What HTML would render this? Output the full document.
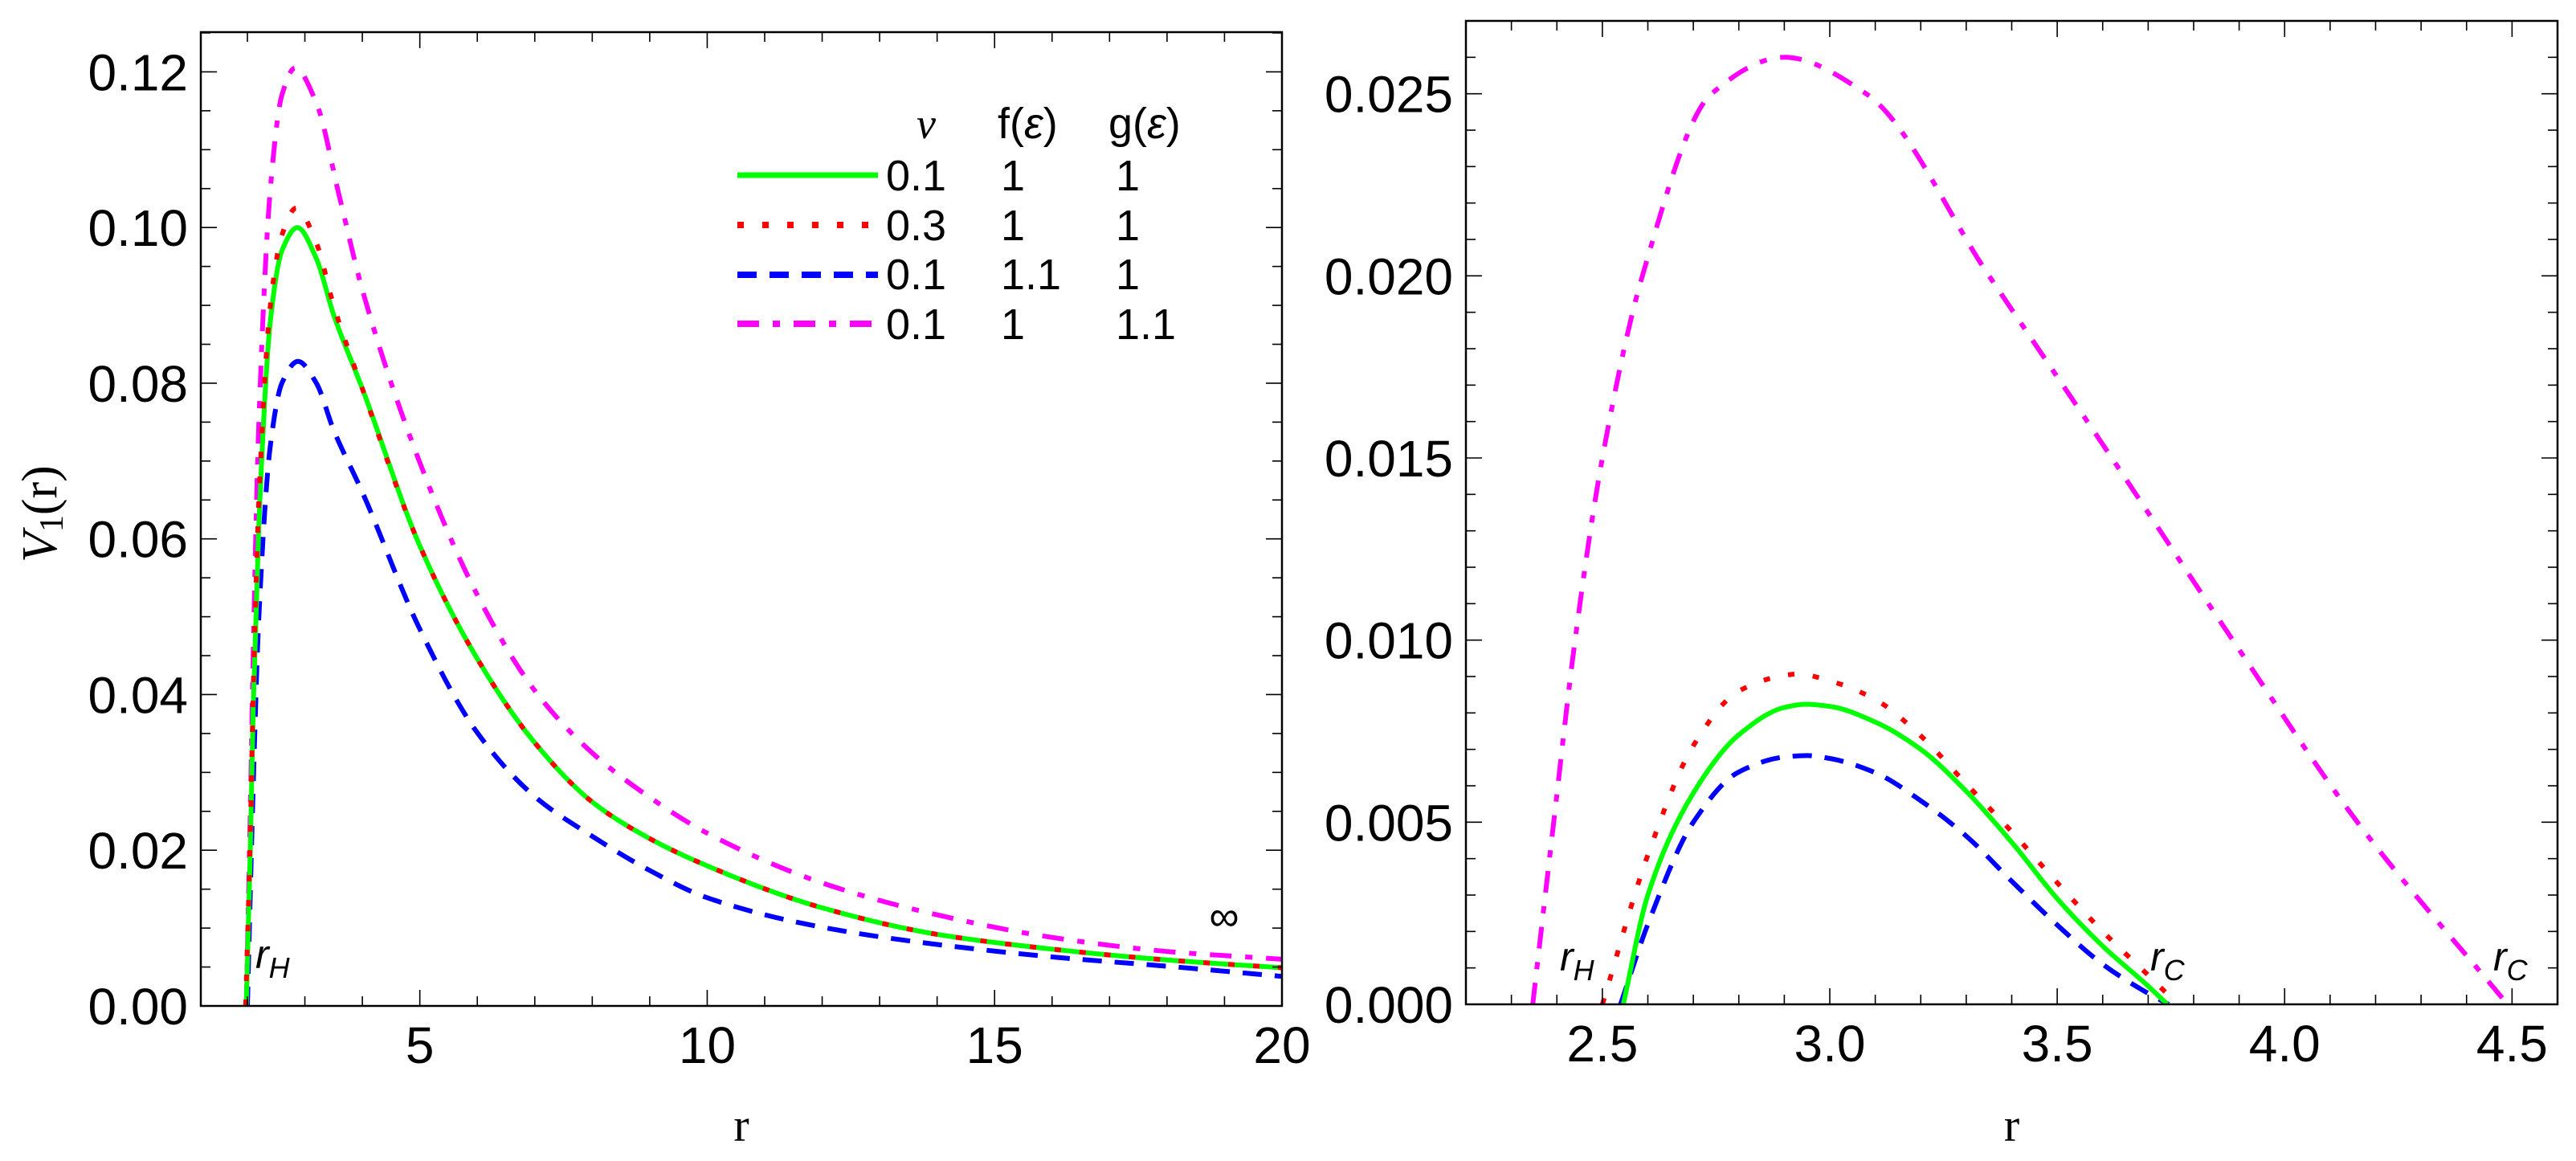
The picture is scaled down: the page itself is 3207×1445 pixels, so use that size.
<!DOCTYPE html>
<html><head><meta charset="utf-8"><style>
html,body{margin:0;padding:0;background:#fff;}
svg{display:block;}
</style></head><body>
<svg id="fig" width="3207" height="1445" viewBox="0 0 3207 1445" xmlns="http://www.w3.org/2000/svg" font-family="Liberation Sans, sans-serif">
<g id="left"></g>
<g id="right"></g>
</svg>
<script>
// ---------- data: left panel ----------
const leftGreenR = [1.98,2.05,2.1,2.2,2.4,2.6,2.87,3.2,3.5,4,5,6,7,8,9,10,12,14,16,18,20];
const leftGreenV = [0,0.02,0.038,0.062,0.088,0.097,0.100,0.096,0.0888,0.0793,0.0591,0.0446,0.0338,0.0262,0.0215,0.018,0.0126,0.0092,0.0073,0.0059,0.0049];
const leftRedR = [1.97,2.05,2.1,2.2,2.4,2.6,2.85,3.2,3.5,4,5,6,7,8,9,10,12,14,16,18,20];
const leftRedV = [0,0.022,0.04,0.065,0.09,0.099,0.1025,0.098,0.09,0.0793,0.0591,0.0446,0.0338,0.0262,0.0215,0.018,0.0126,0.0092,0.0073,0.0059,0.0049];
const leftBlueR = [2.0,2.1,2.2,2.4,2.6,2.88,3.2,3.5,4,5,6,7,8,9,10,12,14,16,18,20];
const leftBlueV = [0,0.028,0.05,0.072,0.08,0.0828,0.08,0.074,0.066,0.0484,0.0351,0.0269,0.0218,0.0174,0.0139,0.0101,0.0079,0.0063,0.0051,0.0038];
const leftMagR = [1.98,2.05,2.1,2.2,2.4,2.6,2.83,3.2,3.6,4,5,6,7,8,9,10,12,14,16,18,20];
const leftMagV = [0,0.025,0.045,0.075,0.105,0.117,0.1205,0.116,0.104,0.092,0.0698,0.0528,0.0405,0.0325,0.0268,0.0222,0.0158,0.0117,0.0088,0.007,0.006];
const leftXTicks = [5,10,15,20];
const leftYTicks = [0,0.02,0.04,0.06,0.08,0.10,0.12];
const leftYLabels = ["0.00","0.02","0.04","0.06","0.08","0.10","0.12"];
// ---------- data: right panel ----------
const rightGreenR = [2.546,2.6,2.7,2.8,2.9,2.946,3.0,3.1,3.2,3.3,3.4,3.5,3.6,3.7,3.742];
const rightGreenV = [0,0.0030,0.0058,0.0074,0.00815,0.00824,0.00818,0.00775,0.0070,0.00585,0.00445,0.0029,0.0016,0.0005,0];
const rightRedR = [2.5,2.6,2.7,2.8,2.9,2.93,3.0,3.1,3.2,3.3,3.4,3.5,3.6,3.7,3.765];
const rightRedV = [0,0.0041,0.0071,0.0086,0.00903,0.00907,0.00888,0.00837,0.00737,0.00605,0.00474,0.00334,0.002,0.0008,0];
const rightBlueR = [2.54,2.6,2.7,2.8,2.9,2.95,3.0,3.1,3.2,3.3,3.4,3.5,3.6,3.7,3.745];
const rightBlueV = [0,0.0022,0.0050,0.00638,0.00679,0.00683,0.00675,0.00636,0.00559,0.00462,0.00338,0.00218,0.0011,0.0003,0];
const rightMagR = [2.347,2.393,2.44,2.5,2.588,2.74,2.9,3.08,3.35,3.62,3.886,4.16,4.49];
const rightMagV = [0,0.005,0.010,0.015,0.020,0.025,0.026,0.025,0.020,0.015,0.010,0.005,0];
const rightXTicks = [2.5,3.0,3.5,4.0,4.5];
const rightXLabels = ["2.5","3.0","3.5","4.0","4.5"];
const rightYTicks = [0,0.005,0.010,0.015,0.020,0.025];
const rightYLabels = ["0.000","0.005","0.010","0.015","0.020","0.025"];

const NS="http://www.w3.org/2000/svg";
function mk(parent,tag,attrs){const e=document.createElementNS(NS,tag);for(const k in attrs)e.setAttribute(k,attrs[k]);parent.appendChild(e);return e;}
function lin(d0,d1,r0,r1){return v=>r0+(v-d0)*(r1-r0)/(d1-d0);}

// monotone cubic (Fritsch-Carlson) in screen coords
function smoothPath(xs,ys){
  const n=xs.length, d=[], m=[];
  for(let i=0;i<n-1;i++)d.push((ys[i+1]-ys[i])/(xs[i+1]-xs[i]));
  m[0]=d[0]; m[n-1]=d[n-2];
  for(let i=1;i<n-1;i++){
    if(d[i-1]*d[i]<=0)m[i]=0;
    else{const w1=2*(xs[i+1]-xs[i])+(xs[i]-xs[i-1]),w2=(xs[i+1]-xs[i])+2*(xs[i]-xs[i-1]);m[i]=(w1+w2)/(w1/d[i-1]+w2/d[i]);}
  }
  let p="M"+xs[0].toFixed(1)+","+ys[0].toFixed(1);
  for(let i=0;i<n-1;i++){
    const h=(xs[i+1]-xs[i])/3;
    p+=" C"+(xs[i]+h).toFixed(1)+","+(ys[i]+m[i]*h).toFixed(1)+" "+(xs[i+1]-h).toFixed(1)+","+(ys[i+1]-m[i+1]*h).toFixed(1)+" "+xs[i+1].toFixed(1)+","+ys[i+1].toFixed(1);
  }
  return p;
}
const styles={
  green:{stroke:"#00ff00",dash:null},
  red:{stroke:"#ff0000",dash:"8 23"},
  blue:{stroke:"#0000ff",dash:"24 16"},
  mag:{stroke:"#ff00ff",dash:"27 17 9 17"}
};

function panel(g,o){
  const sx=lin(o.xmin,o.xmax,o.L,o.R), sy=lin(0,o.ymax,o.B,o.T);
  const clipId=o.id+"-clip";
  const defs=mk(g,"defs",{});
  const cp=mk(defs,"clipPath",{id:clipId});
  mk(cp,"rect",{x:o.L,y:o.T,width:o.R-o.L,height:o.B-o.T});
  const cg=mk(g,"g",{"clip-path":"url(#"+clipId+")"});
  
  
  o.series.forEach(s=>{
    const st=styles[s.style];
    const p=mk(cg,"path",{d:smoothPath(s.r.map(sx),s.v.map(sy)),fill:"none",stroke:st.stroke,"stroke-width":6});
    if(st.dash)p.setAttribute("stroke-dasharray",st.dash);
    
    
  });
  const fr=mk(g,"rect",{x:o.L,y:o.T,width:o.R-o.L,height:o.B-o.T,fill:"none",stroke:"#000","stroke-width":2.5});
  
  
  const xt=mk(g,"g",{stroke:"#000","stroke-width":1.6});
  
  
  for(let k=Math.ceil(o.xmin/o.xminor-1e-9);k*o.xminor<=o.xmax+1e-9;k++){
    const v=k*o.xminor, x=sx(v);
    const major=Math.abs(v/o.xmajor-Math.round(v/o.xmajor))<1e-6;
    const len=major?20:12;
    mk(xt,"line",{x1:x,y1:o.B,x2:x,y2:o.B-len});
    mk(xt,"line",{x1:x,y1:o.T,x2:x,y2:o.T+len});
  }
  const yt=mk(g,"g",{stroke:"#000","stroke-width":1.6});
  
  
  for(let k=0;k*o.yminor<=o.ymax+1e-9;k++){
    const v=k*o.yminor, y=sy(v);
    const major=Math.abs(v/o.ymajor-Math.round(v/o.ymajor))<1e-6;
    const len=major?20:12;
    mk(yt,"line",{x1:o.L,y1:y,x2:o.L+len,y2:y});
    mk(yt,"line",{x1:o.R,y1:y,x2:o.R-len,y2:y});
  }
  o.xticks.forEach((v,i)=>{
    const t=mk(g,"text",{x:sx(v),y:o.B+71,"text-anchor":"middle","font-size":64});
    t.textContent=o.xlabels[i];
    
    
  });
  o.yticks.forEach((v,i)=>{
    const t=mk(g,"text",{x:o.L-16,y:sy(v)+23,"text-anchor":"end","font-size":64});
    t.textContent=o.ylabels[i];
    
    
  });
  const xl=mk(g,"text",{x:(o.L+o.R)/2,y:1420,"text-anchor":"middle","font-size":58,"font-family":"Liberation Serif, serif"});
  xl.textContent="r";
  
  
}

panel(document.getElementById("left"),{id:"left",L:250,R:1596,T:40,B:1252,xmin:2-58/71.56,xmax:20,ymax:0.1251,
  xminor:1,xmajor:5,yminor:0.005,ymajor:0.02,xticks:leftXTicks,xlabels:leftXTicks.map(String),yticks:leftYTicks,ylabels:leftYLabels,
  series:[{name:"mag",style:"mag",r:leftMagR,v:leftMagV},{name:"blue",style:"blue",r:leftBlueR,v:leftBlueV},{name:"green",style:"green",r:leftGreenR,v:leftGreenV},{name:"red",style:"red",r:leftRedR,v:leftRedV}]});
panel(document.getElementById("right"),{id:"right",L:1825,R:3184,T:26,B:1250,xmin:2.2,xmax:4.6,ymax:0.027,
  xminor:0.1,xmajor:0.5,yminor:0.001,ymajor:0.005,xticks:rightXTicks,xlabels:rightXLabels,yticks:rightYTicks,ylabels:rightYLabels,
  series:[{name:"mag",style:"mag",r:rightMagR,v:rightMagV},{name:"blue",style:"blue",r:rightBlueR,v:rightBlueV},{name:"green",style:"green",r:rightGreenR,v:rightGreenV},{name:"red",style:"red",r:rightRedR,v:rightRedV}]});
</script>
<svg style="position:absolute;left:0;top:0" width="3207" height="1445" font-family="Liberation Sans, sans-serif">
  <text transform="translate(70,700) rotate(-90)" font-family="Liberation Serif, serif" font-size="62"><tspan font-style="italic">V</tspan><tspan font-size="42" dy="8">1</tspan><tspan dy="-8">(r)</tspan></text>
  <g font-size="54">
    <text x="1141" y="172" font-style="italic" font-family="Liberation Serif, serif">v</text>
    <text x="1242" y="172">f(<tspan font-style="italic">ε</tspan>)</text>
    <text x="1380" y="172">g(<tspan font-style="italic">ε</tspan>)</text>
    <line x1="918" y1="218" x2="1093" y2="218" stroke="#00ff00" stroke-width="7"/>
    <line x1="918" y1="280" x2="1093" y2="280" stroke="#ff0000" stroke-width="8" stroke-dasharray="8 23"/>
    <line x1="918" y1="342" x2="1093" y2="342" stroke="#0000ff" stroke-width="8" stroke-dasharray="24 16"/>
    <line x1="918" y1="403" x2="1093" y2="403" stroke="#ff00ff" stroke-width="8" stroke-dasharray="27 17 9 17"/>
    <text y="237"><tspan x="1103">0.1</tspan><tspan x="1246">1</tspan><tspan x="1389">1</tspan></text>
    <text y="299"><tspan x="1103">0.3</tspan><tspan x="1246">1</tspan><tspan x="1389">1</tspan></text>
    <text y="360"><tspan x="1103">0.1</tspan><tspan x="1246">1.1</tspan><tspan x="1389">1</tspan></text>
    <text y="422"><tspan x="1103">0.1</tspan><tspan x="1246">1</tspan><tspan x="1389">1.1</tspan></text>
  </g>
  <text x="318" y="1205" font-size="50" font-style="italic">r<tspan font-size="36" dy="12">H</tspan></text>
  <text x="1524" y="1158" font-size="52" text-anchor="middle">∞</text>
  <text x="1942" y="1208" font-size="50" font-style="italic">r<tspan font-size="36" dy="12">H</tspan></text>
  <text x="2677" y="1208" font-size="50" font-style="italic">r<tspan font-size="36" dy="12">C</tspan></text>
  <text x="3104" y="1208" font-size="50" font-style="italic">r<tspan font-size="36" dy="12">C</tspan></text>
</svg>
</body></html>
